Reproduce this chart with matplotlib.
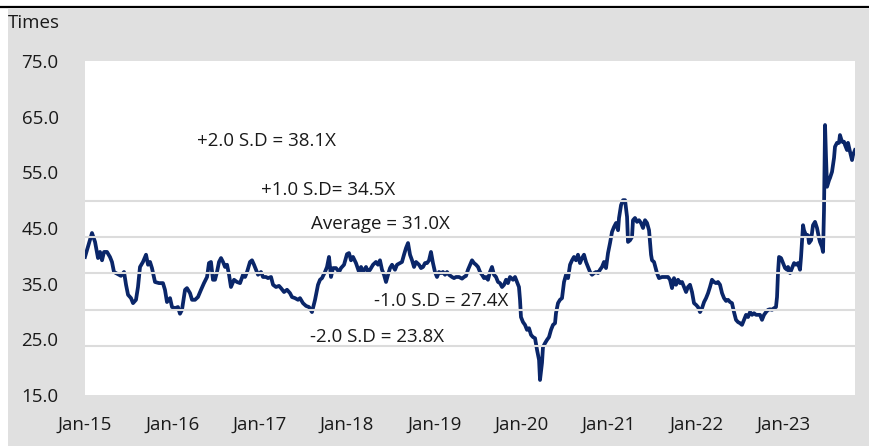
import matplotlib
matplotlib.use('Agg')
import matplotlib.pyplot as plt
from matplotlib.patches import Rectangle
from matplotlib.lines import Line2D
import numpy as np

# 시계열 데이터 (2015년 1월 이후 경과 연수, 배수)
years_since_2015 = [
    0.000, 0.034, 0.080, 0.115, 0.149, 0.172, 0.195, 0.218, 0.252, 0.286,
    0.309, 0.332, 0.378, 0.412, 0.447, 0.470, 0.493, 0.527, 0.550, 0.584,
    0.607, 0.630, 0.664, 0.699, 0.722, 0.745, 0.767, 0.802, 0.848, 0.893,
    0.916, 0.939, 0.974, 0.997, 1.031, 1.065, 1.088, 1.111, 1.146, 1.168,
    1.203, 1.226, 1.260, 1.294, 1.329, 1.363, 1.398, 1.420, 1.443, 1.466,
    1.489, 1.512, 1.535, 1.558, 1.581, 1.604, 1.627, 1.650, 1.672, 1.707,
    1.741, 1.776, 1.810, 1.833, 1.856, 1.890, 1.913, 1.936, 1.959, 1.982,
    2.016, 2.039, 2.073, 2.096, 2.131, 2.154, 2.188, 2.222, 2.245, 2.280,
    2.314, 2.348, 2.371, 2.406, 2.440, 2.463, 2.497, 2.532, 2.566, 2.600,
    2.635, 2.669, 2.692, 2.715, 2.749, 2.772, 2.795, 2.818, 2.841, 2.875,
    2.910, 2.932, 2.967, 3.001, 3.024, 3.047, 3.070, 3.104, 3.139, 3.162,
    3.185, 3.219, 3.242, 3.265, 3.299, 3.333, 3.356, 3.379, 3.402, 3.425,
    3.448, 3.471, 3.494, 3.517, 3.551, 3.574, 3.608, 3.631, 3.654, 3.677,
    3.700, 3.723, 3.746, 3.769, 3.792, 3.826, 3.849, 3.872, 3.895, 3.918,
    3.941, 3.963, 3.986, 4.009, 4.032, 4.055, 4.078, 4.101, 4.124, 4.147,
    4.170, 4.204, 4.227, 4.250, 4.284, 4.319, 4.342, 4.364, 4.387, 4.433,
    4.456, 4.479, 4.502, 4.525, 4.548, 4.571, 4.594, 4.616, 4.639, 4.662,
    4.685, 4.708, 4.731, 4.754, 4.777, 4.800, 4.823, 4.845, 4.868, 4.903,
    4.926, 4.949, 4.971, 4.983, 4.994, 5.017, 5.040, 5.063, 5.086, 5.109,
    5.132, 5.155, 5.178, 5.201, 5.212, 5.235, 5.246, 5.269, 5.292, 5.315,
    5.338, 5.361, 5.384, 5.395, 5.418, 5.441, 5.464, 5.487, 5.510, 5.533,
    5.556, 5.579, 5.601, 5.624, 5.647, 5.670, 5.693, 5.716, 5.739, 5.762,
    5.785, 5.808, 5.831, 5.854, 5.877, 5.899, 5.922, 5.945, 5.968, 5.991,
    6.014, 6.037, 6.060, 6.083, 6.106, 6.117, 6.140, 6.163, 6.186, 6.209,
    6.220, 6.243, 6.266, 6.277, 6.300, 6.323, 6.346, 6.369, 6.392, 6.415,
    6.438, 6.461, 6.484, 6.495, 6.518, 6.552, 6.575, 6.610, 6.644, 6.678,
    6.701, 6.724, 6.747, 6.770, 6.793, 6.816, 6.839, 6.862, 6.885, 6.907,
    6.930, 6.953, 6.976, 6.999, 7.022, 7.045, 7.068, 7.091, 7.114, 7.137,
    7.159, 7.182, 7.205, 7.228, 7.251, 7.274, 7.297, 7.320, 7.343, 7.366,
    7.389, 7.411, 7.434, 7.457, 7.480, 7.503, 7.526, 7.549, 7.572, 7.595,
    7.618, 7.641, 7.663, 7.686, 7.709, 7.732, 7.755, 7.778, 7.801, 7.824,
    7.847, 7.870, 7.893, 7.915, 7.927, 7.938, 7.950, 7.973, 7.996, 8.019,
    8.042, 8.053, 8.076, 8.099, 8.122, 8.145, 8.167, 8.190, 8.202, 8.225,
    8.236, 8.259, 8.282, 8.294, 8.317, 8.339, 8.362, 8.385, 8.408, 8.419,
    8.442, 8.454, 8.465, 8.477, 8.488, 8.500, 8.523, 8.534, 8.557, 8.580,
    8.591, 8.614, 8.637, 8.648, 8.671, 8.694, 8.706, 8.729, 8.740, 8.763,
    8.786, 8.797, 8.820,
]
pe_multiple = [
    39.8, 41.6, 44.1, 42.5, 39.6, 40.7, 39.2, 40.7, 40.7, 39.8,
    38.9, 37.1, 36.7, 36.4, 37.1, 34.8, 33.0, 32.4, 31.5, 32.1,
    34.4, 38.0, 38.9, 40.2, 38.4, 38.9, 37.8, 35.3, 35.1, 35.1,
    33.9, 31.7, 32.4, 30.8, 30.6, 30.8, 29.6, 30.3, 33.9, 34.2,
    33.3, 32.1, 32.1, 32.6, 33.9, 35.1, 36.2, 38.7, 38.9, 35.7,
    35.7, 37.1, 38.9, 39.6, 38.9, 38.0, 38.4, 36.6, 34.4, 35.7,
    35.3, 35.1, 36.6, 36.2, 37.1, 38.9, 39.2, 38.4, 37.5, 36.6,
    37.1, 36.2, 36.2, 36.0, 36.2, 34.8, 34.4, 34.6, 34.2, 33.5,
    33.9, 33.3, 32.6, 32.4, 32.1, 32.4, 31.5, 31.0, 30.8, 29.9,
    32.1, 34.8, 35.7, 36.0, 37.1, 38.0, 39.8, 36.2, 37.8, 37.8,
    37.1, 37.8, 38.4, 40.3, 40.5, 39.2, 39.8, 38.7, 37.1, 38.0,
    37.1, 38.0, 37.1, 37.5, 38.4, 38.9, 38.4, 39.2, 37.5, 36.6,
    35.3, 36.6, 37.8, 38.4, 37.5, 38.4, 38.7, 38.9, 40.2, 41.4,
    42.3, 40.2, 39.2, 38.0, 38.9, 38.4, 37.8, 38.0, 38.7, 38.7,
    39.2, 40.7, 38.7, 37.1, 36.2, 37.1, 36.9, 37.1, 36.6, 37.1,
    36.6, 36.2, 36.0, 36.2, 36.2, 35.9, 36.2, 36.4, 37.5, 39.2,
    38.7, 38.4, 38.0, 37.1, 36.6, 36.0, 36.2, 35.7, 37.1, 38.0,
    36.6, 36.2, 35.3, 35.1, 34.4, 34.8, 35.7, 35.1, 36.2, 35.7,
    36.2, 35.3, 34.4, 32.1, 29.0, 28.1, 27.6, 26.7, 27.0, 25.8,
    25.4, 25.2, 23.1, 21.3, 17.7, 20.8, 23.6, 24.3, 24.9, 25.4,
    26.7, 27.6, 27.9, 29.7, 31.5, 32.1, 32.4, 35.3, 36.6, 36.0,
    38.4, 39.2, 39.8, 39.2, 40.2, 38.7, 39.6, 40.2, 38.9, 38.0,
    37.1, 36.6, 36.9, 37.1, 36.9, 37.5, 38.0, 38.9, 37.8, 40.5,
    42.3, 44.3, 45.2, 45.9, 44.6, 46.8, 49.1, 50.0, 50.0, 47.0,
    42.5, 42.8, 43.4, 46.4, 46.8, 46.1, 46.4, 45.9, 45.0, 46.4,
    45.9, 44.6, 40.2, 39.2, 38.9, 36.9, 36.0, 36.2, 36.2, 36.2,
    35.7, 34.2, 36.0, 34.8, 35.7, 35.1, 35.3, 34.4, 33.5, 34.4,
    34.8, 33.5, 31.5, 31.2, 30.8, 29.9, 30.6, 31.7, 32.4, 33.3,
    34.4, 35.7, 35.3, 35.1, 35.3, 34.8, 33.3, 32.4, 31.9, 32.1,
    31.7, 31.5, 29.9, 28.5, 28.1, 27.9, 27.6, 28.5, 29.4, 29.0,
    29.9, 29.4, 29.7, 29.4, 29.4, 29.4, 28.5, 29.4, 29.9, 30.3,
    30.4, 30.3, 30.6, 30.8, 32.6, 36.9, 39.8, 39.6, 38.7, 37.8,
    37.5, 38.0, 36.9, 37.8, 38.7, 38.4, 38.7, 37.5, 39.8, 45.5,
    44.6, 43.7, 43.7, 42.3, 42.8, 45.5, 46.1, 45.0, 43.2, 42.5,
    41.6, 40.7, 48.2, 63.5, 57.8, 52.4, 53.6, 54.0, 55.1, 57.6,
    59.6, 60.3, 60.3, 61.7, 60.5, 60.5, 59.9, 59.0, 60.3, 58.7,
    57.2, 58.1, 59.0,
]

# 축 눈금과 라벨
y_ticks = [15.0, 25.0, 35.0, 45.0, 55.0, 65.0, 75.0]
x_tick_years = [2015, 2016, 2017, 2018, 2019, 2020, 2021, 2022, 2023]
x_tick_labels = ['Jan-15', 'Jan-16', 'Jan-17', 'Jan-18', 'Jan-19',
                 'Jan-20', 'Jan-21', 'Jan-22', 'Jan-23']

# 가로 기준선 위치
band_lines = [23.8, 30.3, 36.9, 43.4, 49.9]

# 표준편차 주석 (텍스트, x 연도, y 값)
sd_labels = ['+2.0 S.D = 38.1X', '+1.0 S.D= 34.5X', 'Average = 31.0X',
             '-1.0 S.D = 27.4X', '-2.0 S.D = 23.8X']
sd_label_x = [2017.08, 2017.78, 2018.38, 2019.08, 2018.35]
sd_label_y = [60.7, 51.9, 45.8, 31.8, 25.5]

plt.rcParams['font.family'] = ['Open Sans', 'DejaVu Sans']

fig = plt.figure(figsize=(8.69, 4.46), dpi=100, facecolor='white')

# 회색 배경과 상단 검은 선
fig.patches.append(Rectangle((8 / 869, 0), 1 - 8 / 869, (446 - 8.5) / 446,
                             transform=fig.transFigure, facecolor='#e0e0e0',
                             edgecolor='none', zorder=-5))
fig.lines.append(Line2D([0, 1], [(446 - 7) / 446] * 2, transform=fig.transFigure,
                        color='black', linewidth=1.6, zorder=-4))

ax = fig.add_axes([85 / 869, 51 / 446, 770 / 869, 334 / 446])
ax.set_zorder(1)
ax.set_facecolor('white')

x = 2015 + np.array(years_since_2015)
ax.plot(x, pe_multiple, color='#0a2669', linewidth=2.7, zorder=2,
        solid_joinstyle='round')

for yv in band_lines:
    ax.axhline(yv, color='#dcdcdc', linewidth=1.5, zorder=3)

for txt, tx, ty in zip(sd_labels, sd_label_x, sd_label_y):
    ax.text(tx, ty, txt, ha='center', va='center', fontsize=13.5,
            color='#1a1a1a', zorder=4)

ax.set_xlim(2015, 2015 + 770 / 87.3)
ax.set_ylim(15, 75)
ax.set_yticks(y_ticks)
ax.set_yticklabels([f'{v:.1f}' for v in y_ticks])
ax.set_xticks(x_tick_years)
ax.set_xticklabels(x_tick_labels)
ax.tick_params(axis='y', length=0, pad=19, labelsize=13.5, labelcolor='#1a1a1a')
ax.tick_params(axis='x', length=0, pad=15, labelsize=13.5, labelcolor='#1a1a1a')
for s in ax.spines.values():
    s.set_visible(False)

fig.text(8 / 869, (446 - 23) / 446, 'Times', ha='left', va='center',
         fontsize=13.5, color='#1a1a1a')

fig.savefig('out.png', dpi=100, facecolor=fig.get_facecolor())
